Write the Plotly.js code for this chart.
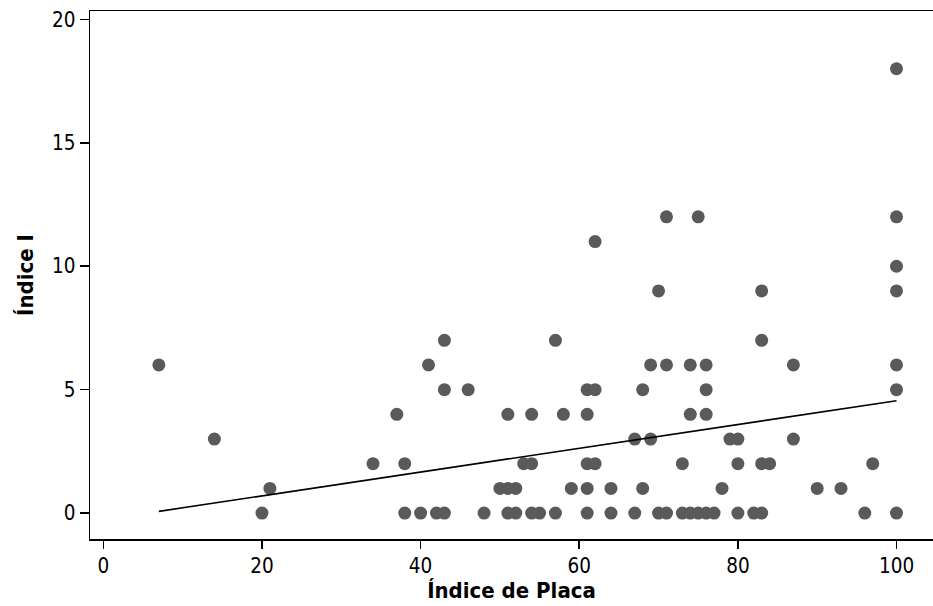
<!DOCTYPE html>
<html>
<head>
<meta charset="utf-8">
<script src="https://cdn.plot.ly/plotly-3.0.1.min.js"></script>
<style>
  html, body { margin: 0; padding: 0; background: #ffffff; }
  #chart { width: 933px; height: 606px; }
</style>
</head>
<body>
<div id="chart"></div>
<script>
// Índice de Placa (x) against Índice I (y), one entry per subject
const indicePlaca = [
  100,
  71, 75, 100,
  62,
  100,
  70, 83, 100,
  43, 57, 83,
  7, 41, 69, 71, 74, 76, 87, 100,
  43, 46, 61, 62, 68, 76, 100,
  37, 51, 54, 58, 61, 74, 76,
  14, 67, 69, 79, 80, 87,
  34, 38, 53, 54, 61, 62, 73, 80, 83, 84, 97,
  21, 50, 51, 52, 59, 61, 64, 68, 78, 90, 93,
  20, 38, 40, 42, 43, 48, 51, 52, 54, 55, 57, 61, 64, 67, 70, 71, 73, 74, 75, 76, 77, 80, 82, 83, 96, 100
];
const indiceI = [
  18,
  12, 12, 12,
  11,
  10,
  9, 9, 9,
  7, 7, 7,
  6, 6, 6, 6, 6, 6, 6, 6,
  5, 5, 5, 5, 5, 5, 5,
  4, 4, 4, 4, 4, 4, 4,
  3, 3, 3, 3, 3, 3,
  2, 2, 2, 2, 2, 2, 2, 2, 2, 2, 2,
  1, 1, 1, 1, 1, 1, 1, 1, 1, 1, 1,
  0, 0, 0, 0, 0, 0, 0, 0, 0, 0, 0, 0, 0, 0, 0, 0, 0, 0, 0, 0, 0, 0, 0, 0, 0, 0
];

// Fitted regression line: Índice I = intercept + slope * Índice de Placa
const fitIntercept = -0.267;
const fitSlope = 0.0482;

const xTickVals = [0, 20, 40, 60, 80, 100];
const yTickVals = [0, 5, 10, 15, 20];

const fitX = [Math.min(...indicePlaca), Math.max(...indicePlaca)];
const fitY = fitX.map(v => fitIntercept + fitSlope * v);

const tickFont = { family: "DejaVu Sans Condensed, DejaVu Sans, sans-serif", size: 20.5, color: "#000000" };
const titleFont = { family: "DejaVu Sans Condensed, DejaVu Sans, sans-serif", size: 22, color: "#000000", weight: "bold" };

const traces = [
  {
    type: "scatter",
    mode: "markers",
    x: indicePlaca,
    y: indiceI,
    marker: { size: 13, color: "#5a5a5a", line: { width: 0 } },
    hoverinfo: "x+y"
  },
  {
    type: "scatter",
    mode: "lines",
    x: fitX,
    y: fitY,
    line: { color: "#000000", width: 1.6 },
    hoverinfo: "skip"
  }
];

const layout = {
  width: 933,
  height: 606,
  margin: { l: 90, r: 0, t: 11, b: 67 },
  paper_bgcolor: "#ffffff",
  plot_bgcolor: "#ffffff",
  showlegend: false,
  xaxis: {
    range: [-1.68, 104.6],
    tickvals: xTickVals,
    ticktext: xTickVals.map(String),
    ticks: "outside",
    ticklen: 8,
    tickwidth: 1.5,
    tickcolor: "#000000",
    showline: true,
    mirror: true,
    linecolor: "#000000",
    linewidth: 1.5,
    showgrid: false,
    zeroline: false,
    tickfont: tickFont,
    title: { text: "<b>Índice de Placa</b>", font: titleFont, standoff: 4 }
  },
  yaxis: {
    range: [-1.05, 20.34],
    tickvals: yTickVals,
    ticktext: yTickVals.map(String),
    ticks: "outside",
    ticklen: 9,
    tickwidth: 1.5,
    tickcolor: "#000000",
    showline: true,
    mirror: false,
    linecolor: "#000000",
    linewidth: 1.5,
    showgrid: false,
    zeroline: false,
    tickfont: tickFont,
    title: { text: "<b>Índice I</b>", font: titleFont, standoff: 12 }
  }
};

Plotly.newPlot("chart", traces, layout, { displayModeBar: false, staticPlot: true });
</script>
</body>
</html>
